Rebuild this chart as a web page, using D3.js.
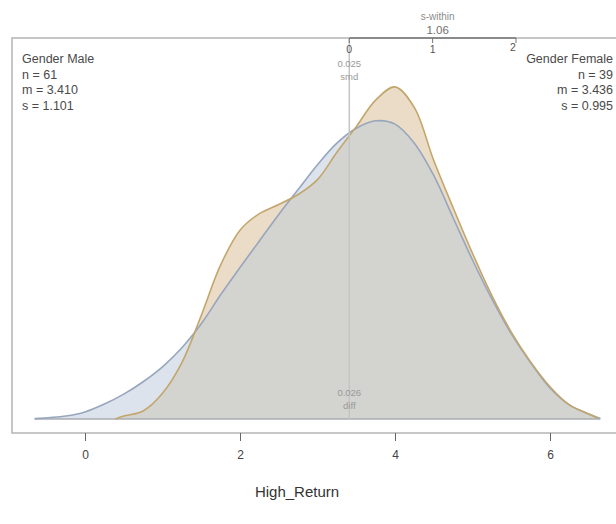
<!DOCTYPE html>
<html>
<head>
<meta charset="utf-8">
<script src="https://cdn.jsdelivr.net/npm/d3@7"></script>
<style>
  html, body { margin: 0; padding: 0; background: #fff; }
  svg { display: block; }
  text { font-family: "Liberation Sans", Arial, sans-serif; }
</style>
</head>
<body>
<svg id="chart" width="616" height="524"></svg>
<script>
// Density estimates of High_Return by gender
const maleX = [-0.65, -0.25, 0, 0.25, 0.5, 0.75, 1, 1.25, 1.5, 1.75, 2, 2.25, 2.5, 2.75, 3, 3.25, 3.5, 3.75, 4, 4.25, 4.5, 4.75, 5, 5.25, 5.5, 5.75, 6, 6.25, 6.5, 6.65];
const maleDensity = [0.0005, 0.0036, 0.0085, 0.018, 0.030, 0.045, 0.063, 0.086, 0.115, 0.150, 0.183, 0.215, 0.247, 0.277, 0.307, 0.333, 0.351, 0.360, 0.356, 0.333, 0.294, 0.243, 0.192, 0.145, 0.103, 0.068, 0.0375, 0.017, 0.006, 0.0006];

const femaleX = [0.39, 0.5, 0.75, 1, 1.25, 1.5, 1.75, 2, 2.25, 2.5, 2.75, 3, 3.25, 3.5, 3.75, 4, 4.25, 4.5, 4.75, 5, 5.25, 5.5, 5.75, 6, 6.25, 6.5, 6.62];
const femaleDensity = [0.0, 0.0036, 0.0097, 0.031, 0.068, 0.125, 0.186, 0.228, 0.248, 0.259, 0.271, 0.289, 0.322, 0.353, 0.385, 0.401, 0.376, 0.312, 0.255, 0.200, 0.149, 0.105, 0.069, 0.039, 0.017, 0.006, 0.001];

// Group summaries
const groupNames = ["Gender Male", "Gender Female"];
const groupN = [61, 39];
const groupMean = [3.410, 3.436];
const groupSd = [1.101, 0.995];

// Effect size summaries
const sWithin = 1.06;
const smd = 0.025;
const diff = 0.026;

const xTicks = [0, 2, 4, 6];
const sTicks = [0, 1, 2];
const xTitle = "High_Return";

const svg = d3.select("#chart");

const frame = { left: 12, top: 38, right: 622, bottom: 433 };
const baseY = 419;

const x = d3.scaleLinear().domain([0, 6]).range([85, 550]);
const y = d3.scaleLinear().domain([0, 0.46]).range([baseY, frame.top]);

const male = maleX.map((v, i) => [v, maleDensity[i]]);
const female = femaleX.map((v, i) => [v, femaleDensity[i]]);

const area = d3.area()
  .x(d => x(d[0]))
  .y0(baseY)
  .y1(d => y(d[1]))
  .curve(d3.curveCatmullRom.alpha(0.5));

const line = d3.line()
  .x(d => x(d[0]))
  .y(d => y(d[1]))
  .curve(d3.curveCatmullRom.alpha(0.5));

// Plot frame
svg.append("rect")
  .attr("x", frame.left).attr("y", frame.top)
  .attr("width", frame.right - frame.left)
  .attr("height", frame.bottom - frame.top)
  .attr("fill", "none")
  .attr("stroke", "#b4b4b4")
  .attr("stroke-width", 1.5);

// Clip region for the overlap of the two densities
svg.append("defs").append("clipPath").attr("id", "femaleClip")
  .append("path").attr("d", area(female));

// Filled densities
svg.append("path").attr("d", area(male)).attr("fill", "#dce3ed");
svg.append("path").attr("d", area(female)).attr("fill", "#ebdcc7");
svg.append("path").attr("d", area(male))
  .attr("clip-path", "url(#femaleClip)")
  .attr("fill", "#d3d3cf");

// Baseline under the curves
svg.append("line")
  .attr("x1", x(maleX[0])).attr("x2", x(maleX[maleX.length - 1]))
  .attr("y1", baseY).attr("y2", baseY)
  .attr("stroke", "#a8acb2").attr("stroke-width", 1.5);

// Density outlines
svg.append("path").attr("d", line(male))
  .attr("fill", "none").attr("stroke", "#97a6bd").attr("stroke-width", 1.6);
svg.append("path").attr("d", line(female))
  .attr("fill", "none").attr("stroke", "#c2a66c").attr("stroke-width", 1.6);

// Reference line at the first group's mean
const mx = x(groupMean[0]);
svg.append("line")
  .attr("x1", mx).attr("x2", mx)
  .attr("y1", frame.top + 1).attr("y2", baseY)
  .attr("stroke", "#c4c4c4").attr("stroke-width", 1.5);

const small = svg.append("g")
  .attr("font-size", 9.5).attr("fill", "#9a9a9a").attr("text-anchor", "middle");
small.append("text").attr("x", mx).attr("y", 67).text(smd.toFixed(3));
small.append("text").attr("x", mx).attr("y", 80).text("smd");
small.append("text").attr("x", mx).attr("y", 396).text(diff.toFixed(3));
small.append("text").attr("x", mx).attr("y", 409).text("diff");

// s-within scale along the top edge, starting at the mean line
const s = d3.scaleLinear().domain([0, 2]).range([mx, 516]);
svg.append("line")
  .attr("x1", s(0)).attr("x2", s(2))
  .attr("y1", frame.top).attr("y2", frame.top)
  .attr("stroke", "#8a8a8a").attr("stroke-width", 2);
const sAxis = svg.append("g");
sTicks.forEach(t => {
  sAxis.append("line")
    .attr("x1", s(t)).attr("x2", s(t))
    .attr("y1", frame.top).attr("y2", frame.top + 5)
    .attr("stroke", "#777").attr("stroke-width", 1);
});
sAxis.selectAll("text.st").data(sTicks).enter().append("text")
  .attr("class", "st")
  .attr("x", d => d === 2 ? s(d) - 3 : s(d))
  .attr("y", d => d === 2 ? 51 : 53)
  .attr("text-anchor", "middle")
  .attr("font-size", 10.5).attr("fill", "#555")
  .text(d => d);
svg.append("text").attr("x", s(sWithin)).attr("y", 20)
  .attr("text-anchor", "middle").attr("font-size", 10).attr("fill", "#8c8c8c")
  .text("s-within");
svg.append("text").attr("x", s(sWithin)).attr("y", 34)
  .attr("text-anchor", "middle").attr("font-size", 11.5).attr("fill", "#707070")
  .text(sWithin.toFixed(2));

// Group summary blocks
const lines = i => [groupNames[i], "n = " + groupN[i], "m = " + groupMean[i].toFixed(3), "s = " + groupSd[i].toFixed(3)];
const left = svg.append("g").attr("font-size", 12.5).attr("fill", "#4a4a4a");
lines(0).forEach((t, k) => left.append("text").attr("x", 22).attr("y", 63 + k * 15.5).text(t));
const right = svg.append("g").attr("font-size", 12.5).attr("fill", "#4a4a4a").attr("text-anchor", "end");
lines(1).forEach((t, k) => right.append("text").attr("x", 613).attr("y", 63 + k * 15.5).text(t));

// Bottom axis
const xAxis = svg.append("g")
  .attr("transform", `translate(0,${frame.bottom})`)
  .call(d3.axisBottom(x).tickValues(xTicks).tickSize(8).tickPadding(9).tickFormat(d3.format("d")));
xAxis.select(".domain").remove();
xAxis.selectAll(".tick line").attr("stroke", "#666");
xAxis.selectAll(".tick text")
  .attr("font-size", 12).attr("fill", "#444")
  .attr("font-family", "'Liberation Sans', Arial, sans-serif");

svg.append("text")
  .attr("x", 297).attr("y", 497)
  .attr("text-anchor", "middle")
  .attr("font-size", 15).attr("fill", "#333")
  .text(xTitle);
</script>
</body>
</html>
